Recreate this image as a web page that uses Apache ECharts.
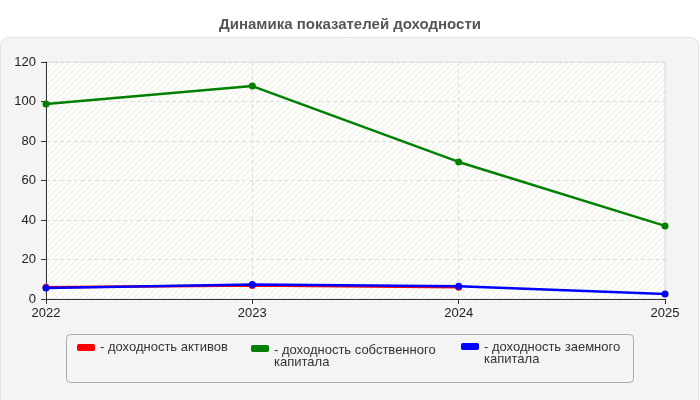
<!DOCTYPE html>
<html><head><meta charset="utf-8">
<script src="https://cdn.jsdelivr.net/npm/echarts@6/dist/echarts.min.js"></script>
<style>html,body{margin:0;padding:0;background:#fff}#c{width:700px;height:400px}</style>
</head><body><div id="c"></div>
<script>
const categories = ['2022', '2023', '2024', '2025'];
const assetsReturn = [5.9, 6.8, 6.0, null];
const equityReturn = [98.7, 107.8, 69.4, 37.0];
const debtReturn = [5.6, 7.3, 6.4, 2.5];
const seriesNames = ['доходность активов', 'доходность собственного капитала', 'доходность заемного капитала'];
const legendLabels = ['{t|- доходность активов}', '{e| }\n{t|- доходность собственного}\n{t|капитала}', '{f| }\n{t|- доходность заемного}\n{t|капитала}'];
const colors = ['#ff0000', '#008000', '#0000ff'];

const FONT = '"Liberation Sans", Arial, sans-serif';
const pc = document.createElement('canvas');
pc.width = 6; pc.height = 6;
const pctx = pc.getContext('2d');
pctx.fillStyle = '#fdfdf9'; pctx.fillRect(0, 0, 6, 6);
pctx.strokeStyle = 'rgba(225,225,220,0.6)'; pctx.lineWidth = 1;
pctx.beginPath(); pctx.moveTo(0, 6); pctx.lineTo(6, 0); pctx.stroke();

const chart = echarts.init(document.getElementById('c'), null, {renderer: 'canvas'});
const legendLeft = [77, 251, 461];
const legendTop = [341, 330, 328];
const rich = {
  t: {fontFamily: FONT, fontSize: 13, color: '#333', lineHeight: 12},
  e: {fontFamily: FONT, fontSize: 13, lineHeight: 16},
  f: {fontFamily: FONT, fontSize: 13, lineHeight: 14}
};
const legends = seriesNames.map((n, i) => ({
  left: legendLeft[i], top: legendTop[i], orient: 'horizontal', padding: 0,
  data: [n], itemWidth: 18, itemHeight: 7, itemGap: 0,
  icon: 'roundRect',
  formatter: () => legendLabels[i],
  textStyle: {fontFamily: FONT, fontSize: 13, color: '#333', rich: rich},
  selectedMode: false
}));
const dataArr = [assetsReturn, equityReturn, debtReturn];
chart.setOption({
  animation: false,
  title: {text: 'Динамика показателей доходности', left: 'center', top: 12,
    textStyle: {fontFamily: FONT, fontSize: 15, fontWeight: 'bold', color: '#555'}},
  graphic: [
    {type: 'rect', shape: {x: 0.5, y: 37.5, width: 698, height: 370, r: 8}, z: -10,
      style: {fill: '#f4f4f4', stroke: '#e2e2e2', lineWidth: 1}},
    {type: 'rect', shape: {x: 66.5, y: 334.5, width: 567, height: 48, r: 4}, z: -5,
      style: {fill: '#f4f4f4', stroke: '#aaaaaa', lineWidth: 1}}
  ],
  legend: legends,
  grid: {left: 46, right: 35, top: 62, bottom: 101, show: true,
    backgroundColor: {image: pc, repeat: 'repeat'}, borderColor: '#e0e0e0', borderWidth: 1},
  xAxis: {type: 'category', data: categories, boundaryGap: false,
    axisLine: {lineStyle: {color: '#333'}}, axisTick: {show: true, lineStyle: {color: '#333'}, length: 5},
    axisLabel: {fontFamily: FONT, fontSize: 13, color: '#222', margin: 8},
    splitLine: {show: true, lineStyle: {color: '#dddddd', type: [4, 3]}}},
  yAxis: {type: 'value', min: 0, max: 120, interval: 20,
    axisLine: {show: true, lineStyle: {color: '#333'}}, axisTick: {show: true, lineStyle: {color: '#333'}, length: 5},
    axisLabel: {fontFamily: FONT, fontSize: 13, color: '#222', margin: 10},
    splitLine: {show: true, lineStyle: {color: '#dddddd', type: [4, 3]}}},
  series: seriesNames.map((n, i) => ({
    name: n, type: 'line', data: dataArr[i], color: colors[i],
    symbol: 'circle', symbolSize: 7, lineStyle: {width: 2.5, color: colors[i]},
    itemStyle: {color: colors[i]}, z: 2 + i
  }))
});
</script></body></html>
